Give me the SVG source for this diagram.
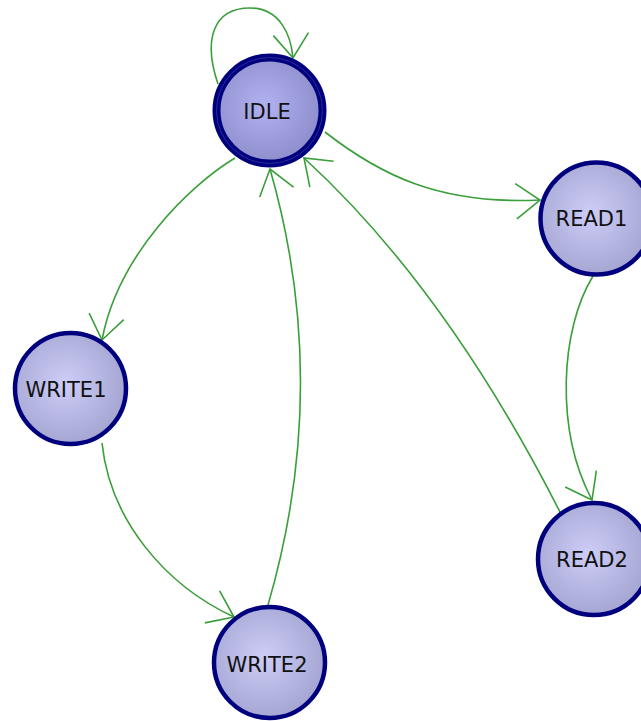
<svg xmlns="http://www.w3.org/2000/svg" width="641" height="721" viewBox="0 0 641 721">
<style>
.edge{fill:none;stroke:#3a9e3a;stroke-width:1.6;marker-end:url(#arr)}
.node{stroke:#00007f;stroke-width:4.5;fill:url(#g)}
.lbl{font-family:"DejaVu Sans",Verdana,sans-serif;font-size:21px;fill:#111111;text-anchor:middle}
</style>
<defs>
<radialGradient id="g" cx="45%" cy="45%" r="55%">
<stop offset="0" stop-color="#cdcdf8"/>
<stop offset="1" stop-color="#a6a6d3"/>
</radialGradient>
<radialGradient id="gi" cx="45%" cy="45%" r="55%">
<stop offset="0" stop-color="#b2b2f2"/>
<stop offset="1" stop-color="#8e8ecc"/>
</radialGradient>
<marker id="arr" markerUnits="userSpaceOnUse" orient="auto" refX="0" refY="0" markerWidth="40" markerHeight="40" viewBox="-30 -20 32 40" overflow="visible">
<path d="M-24,-17.6 L0,0 L-24,17.6" fill="none" stroke="#3a9e3a" stroke-width="1.6"/>
</marker>
</defs>
<rect width="641" height="721" fill="#ffffff"/>
<g id="connectors">
<path class="edge" d="M218,84 C203,40 213,8 250,8 C280,8 291,35 293,58"/>
<path class="edge" d="M325,132 C380,175 440,205 540,200"/>
<path class="edge" d="M593,276 C560,330 555,430 592,500"/>
<path class="edge" d="M560,512 Q446,288 304,158"/>
<path class="edge" d="M235,158 C190,185 118,255 102,340"/>
<path class="edge" d="M102,443 C110,520 165,585 234,617"/>
<path class="edge" d="M268,605 Q332,385 270,169"/>
</g>
<g id="IDLE">
<circle cx="269.5" cy="110.5" r="53" fill="url(#gi)" stroke="#00007f" stroke-width="8"/>
<circle cx="269.5" cy="110.5" r="53" fill="none" stroke="#2a2a9a" stroke-width="1"/>
<text class="lbl" x="267" y="119">IDLE</text>
</g>
<g id="WRITE1">
<circle class="node" cx="70.5" cy="388.5" r="55.5"/>
<text class="lbl" x="66" y="397">WRITE1</text>
</g>
<g id="READ1">
<circle class="node" cx="596.5" cy="218.5" r="56"/>
<text class="lbl" x="591.5" y="225.5">READ1</text>
</g>
<g id="READ2">
<circle class="node" cx="594" cy="559" r="56"/>
<text class="lbl" x="592" y="567">READ2</text>
</g>
<g id="WRITE2">
<circle class="node" cx="269.5" cy="662.5" r="55.5"/>
<text class="lbl" x="267" y="672">WRITE2</text>
</g>
</svg>
